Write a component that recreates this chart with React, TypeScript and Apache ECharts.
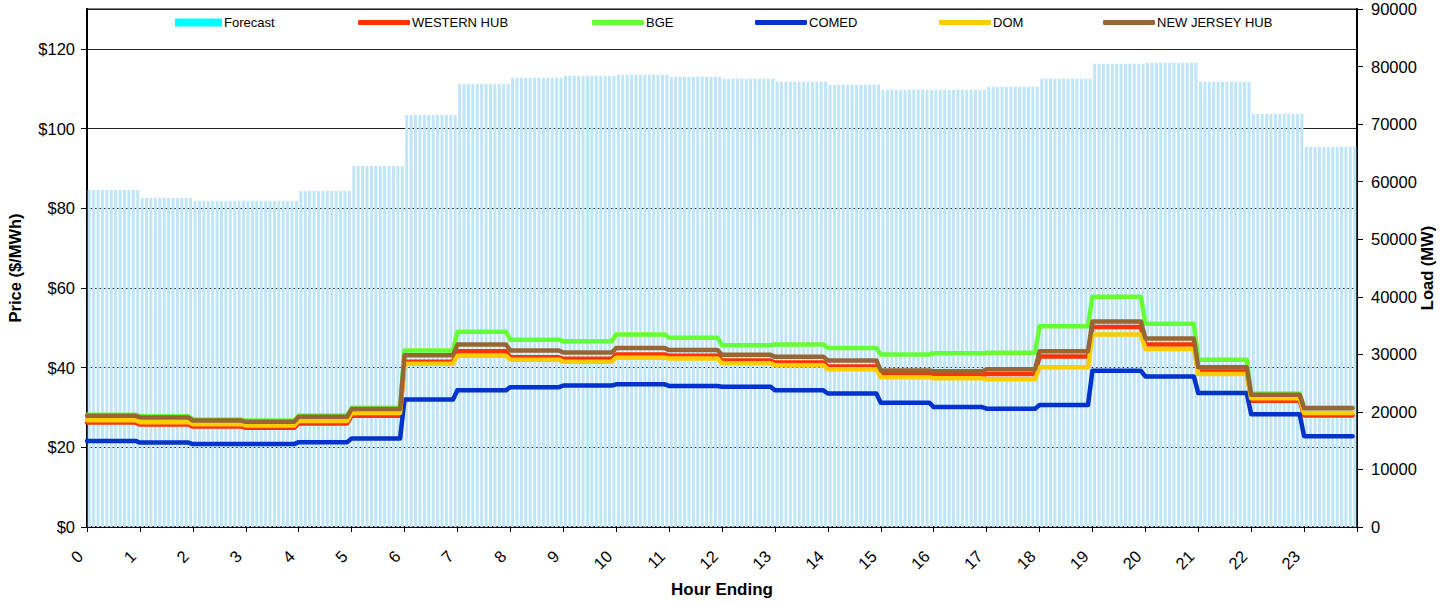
import React, { useEffect, useRef } from "react";
import * as echarts from "echarts";

const HOUR_LABELS = ["0","1","2","3","4","5","6","7","8","9","10","11","12","13","14","15","16","17","18","19","20","21","22","23"];
const INTERVALS_PER_HOUR = 12;

// Hourly forecast load (MW)
const LOAD_FORECAST = [58570, 57180, 56650, 56650, 58390, 62710, 71580, 76980, 78050, 78390, 78570, 78220, 77870, 77350, 76830, 75960, 75960, 76480, 77870, 80480, 80660, 77350, 71750, 66010];

// Hourly prices ($/MWh)
const WESTERN_HUB = [26.2, 25.7, 25.2, 24.9, 26.0, 27.9, 41.5, 44.1, 42.6, 42.2, 43.3, 43.0, 41.8, 41.3, 40.3, 38.4, 38.1, 38.4, 42.8, 50.2, 45.8, 39.0, 31.7, 28.0];
const BGE = [28.2, 27.8, 27.0, 26.7, 28.0, 29.9, 44.3, 49.0, 47.0, 46.6, 48.3, 47.5, 45.6, 45.8, 44.9, 43.3, 43.6, 43.7, 50.4, 57.8, 51.0, 42.0, 33.5, 30.0];
const COMED = [21.6, 21.2, 20.8, 20.8, 21.3, 22.2, 32.0, 34.3, 35.1, 35.5, 35.8, 35.4, 35.2, 34.3, 33.5, 31.2, 30.1, 29.7, 30.6, 39.2, 37.8, 33.6, 28.3, 22.8];
const DOM = [26.8, 26.3, 25.8, 25.5, 26.6, 28.6, 41.0, 43.0, 42.0, 41.5, 42.5, 42.3, 41.1, 40.6, 39.6, 37.6, 37.3, 37.1, 40.1, 48.3, 44.7, 38.4, 32.3, 28.6];
const NEW_JERSEY_HUB = [27.9, 27.5, 26.7, 26.4, 27.7, 29.6, 43.1, 45.8, 44.3, 43.8, 44.9, 44.4, 43.2, 42.7, 41.8, 39.3, 39.1, 39.6, 44.1, 51.6, 47.3, 40.1, 33.2, 29.8];

const SERIES_NAMES = ["Forecast", "WESTERN HUB", "BGE", "COMED", "DOM", "NEW JERSEY HUB"];
const SERIES_COLORS = ["#bfe5f9", "#ff3300", "#66ff33", "#0033cc", "#ffcc00", "#996633"];

const FONT = "'Liberation Sans', Arial, sans-serif";

function expand(hourly: number[]): number[] {
  const out: number[] = [];
  hourly.forEach((v) => {
    for (let k = 0; k < INTERVALS_PER_HOUR; k++) out.push(v);
  });
  return out;
}

export default function App() {
  const ref = useRef<HTMLDivElement>(null);

  useEffect(() => {
    if (!ref.current) return;
    const chart = echarts.init(ref.current, undefined, { renderer: "svg" });

    const categories: string[] = [];
    HOUR_LABELS.forEach((h) => {
      for (let k = 0; k < INTERVALS_PER_HOUR; k++) categories.push(h);
    });
    const lineCats = categories.concat([""]);

    const priceSets = [WESTERN_HUB, BGE, COMED, DOM, NEW_JERSEY_HUB];

    const legendLeft = [170, 353, 587, 750, 934, 1098];
    const legends = SERIES_NAMES.map((name, k) => ({
      show: true,
      left: legendLeft[k],
      top: 11,
      selectedMode: false,
      itemWidth: k === 0 ? 47 : 52,
      itemHeight: k === 0 ? 8 : 5,
      itemGap: 0,
      textStyle: { fontFamily: FONT, fontSize: 13, color: "#000", padding: [0, 0, 0, -3] },
      data: [
        k === 0
          ? { name, icon: "rect", itemStyle: { color: "#00ffff" } }
          : { name, icon: "roundRect" },
      ],
    }));

    const option: any = {
      animation: false,
      textStyle: { fontFamily: FONT },
      grid: {
        left: 87,
        right: 91,
        top: 9,
        bottom: 75,
        show: true,
        borderColor: "#808080",
        borderWidth: 2,
        backgroundColor: "transparent",
      },
      legend: legends,
      xAxis: [
        {
          type: "category",
          data: categories,
          boundaryGap: true,
          axisLine: { show: true, lineStyle: { color: "#000", width: 1.5 } },
          axisTick: { show: true, interval: 11, length: 5, lineStyle: { color: "#000" } },
          axisLabel: {
            interval: 11,
            rotate: 45,
            margin: 17,
            padding: [0, 13, 0, 0],
            fontSize: 16.5,
            color: "#000",
            fontFamily: FONT,
          },
          splitLine: { show: false },
        },
        {
          type: "category",
          data: lineCats,
          boundaryGap: false,
          show: false,
        },
      ],
      yAxis: [
        {
          type: "value",
          position: "left",
          min: 0,
          max: 130,
          interval: 20,
          axisLine: { show: true, lineStyle: { color: "#000", width: 2 } },
          axisTick: { show: true, length: 6, lineStyle: { color: "#000" } },
          axisLabel: {
            showMaxLabel: false,
            margin: 12,
            fontSize: 16.5,
            color: "#000",
            fontFamily: FONT,
            formatter: (v: number) => "$" + v,
          },
          splitLine: { show: true, lineStyle: { color: "#222", width: 1 } },
        },
        {
          type: "value",
          position: "right",
          min: 0,
          max: 90000,
          interval: 10000,
          axisLine: { show: true, lineStyle: { color: "#000", width: 2 } },
          axisTick: { show: true, length: 6, lineStyle: { color: "#000" } },
          axisLabel: {
            margin: 14,
            fontSize: 16.5,
            color: "#000",
            fontFamily: FONT,
            formatter: (v: number) => String(v),
          },
          splitLine: { show: false },
        },
      ],
      graphic: [
        {
          type: "text",
          x: 15,
          y: 268,
          rotation: Math.PI / 2,
          style: {
            text: "Price ($/MWh)",
            fontFamily: FONT,
            fontSize: 16.5,
            fontWeight: "bold",
            fill: "#000",
            textAlign: "center",
            textVerticalAlign: "middle",
          },
        },
        {
          type: "text",
          x: 1427,
          y: 268,
          rotation: Math.PI / 2,
          style: {
            text: "Load (MW)",
            fontFamily: FONT,
            fontSize: 16.5,
            fontWeight: "bold",
            fill: "#000",
            textAlign: "center",
            textVerticalAlign: "middle",
          },
        },
        {
          type: "text",
          x: 722,
          y: 589,
          style: {
            text: "Hour Ending",
            fontFamily: FONT,
            fontSize: 17,
            fontWeight: "bold",
            fill: "#000",
            textAlign: "center",
            textVerticalAlign: "middle",
          },
        },
      ],
      series: [
        {
          name: SERIES_NAMES[0],
          type: "bar",
          xAxisIndex: 0,
          yAxisIndex: 1,
          data: expand(LOAD_FORECAST),
          barCategoryGap: "32%",
          itemStyle: { color: SERIES_COLORS[0] },
          silent: true,
        },
        ...priceSets.map((arr, k) => ({
          name: SERIES_NAMES[k + 1],
          type: "line",
          xAxisIndex: 1,
          yAxisIndex: 0,
          data: expand(arr),
          symbol: "none",
          showSymbol: false,
          color: SERIES_COLORS[k + 1],
          lineStyle: { color: SERIES_COLORS[k + 1], width: 4.5, cap: "round", join: "round" },
          itemStyle: { color: SERIES_COLORS[k + 1] },
          silent: true,
          z: 3 + k,
        })),
      ],
    };

    chart.setOption(option);
    return () => chart.dispose();
  }, []);

  return (
    <div
      ref={ref}
      style={{ position: "fixed", left: 0, top: 0, width: 1448, height: 602, background: "#fff" }}
    />
  );
}
